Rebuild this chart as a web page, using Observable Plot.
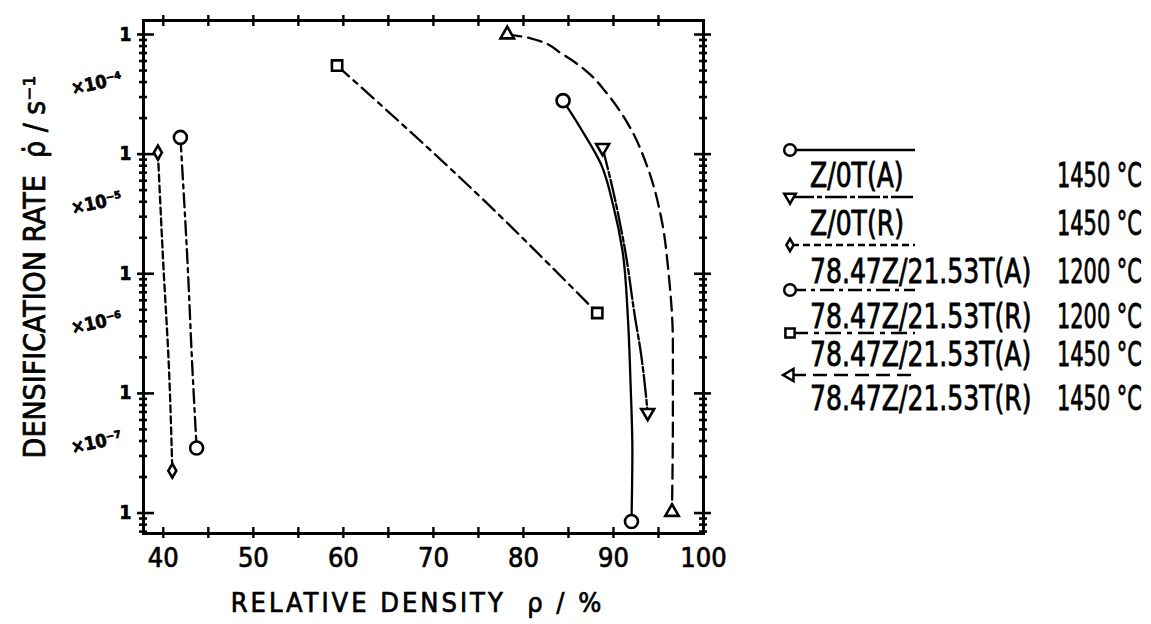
<!DOCTYPE html>
<html><head><meta charset="utf-8">
<script src="https://cdn.jsdelivr.net/npm/d3@7"></script>
<script src="https://cdn.jsdelivr.net/npm/@observablehq/plot@0.6"></script>
<style>
body{margin:0;background:#fff;}
#wrap{position:relative;width:1151px;height:624px;overflow:hidden;background:#fff;}
</style></head><body><div id="wrap"></div>
<script>
// ---------- data ----------
const xTickLabels = [40, 50, 60, 70, 80, 90, 100];
const xMinorTicks = [40, 45, 50, 55, 60, 65, 70, 75, 80, 85, 90, 95];
const yDecades = [1e-8, 1e-7, 1e-6, 1e-5, 1e-4];
const yDecadeLabels = ["1", "1", "1", "1", "1"];
const yMultDecades = [1e-7, 1e-6, 1e-5, 1e-4];
const yMultLabels = ["×10⁻⁷", "×10⁻⁶", "×10⁻⁵", "×10⁻⁴"];

const seriesLabels = ["Z/0T(A)", "Z/0T(R)", "78.47Z/21.53T(A)", "78.47Z/21.53T(R)", "78.47Z/21.53T(A)", "78.47Z/21.53T(R)"];
const seriesTemps = ["1450 °C", "1450 °C", "1200 °C", "1200 °C", "1450 °C", "1450 °C"];

// Z/0T(A) 1450 °C
const zotA_x = [84.4, 86.3, 88.6, 90.0, 91.0, 91.6, 91.9, 92.1, 92.0];
const zotA_y = [2.8e-5, 1.67e-5, 8.3e-6, 3.65e-6, 1.56e-6, 4.3e-7, 1.2e-7, 3.3e-8, 8.5e-9];
// Z/0T(R) 1450 °C
const zotR_x = [88.8, 90.2, 91.3, 92.4, 93.0, 93.8];
const zotR_y = [1.13e-5, 4.1e-6, 1.56e-6, 4.3e-7, 2.3e-7, 6.9e-8];
// 78.47Z/21.53T(A) 1200 °C
const zt1200A_x = [39.4, 40.0, 40.6, 41.0];
const zt1200A_y = [1.03e-5, 1.2e-6, 1.8e-7, 2.26e-8];
// 78.47Z/21.53T(R) 1200 °C
const zt1200R_x = [41.9, 42.7, 43.2, 43.7];
const zt1200R_y = [1.38e-5, 1.2e-6, 1.8e-7, 3.5e-8];
// 78.47Z/21.53T(A) 1450 °C
const zt1450A_x = [59.3, 75.2, 88.2];
const zt1450A_y = [5.5e-5, 4.4e-6, 4.7e-7];
// 78.47Z/21.53T(R) 1450 °C
const zt1450R_x = [78.2, 80.8, 84.4, 87.4, 89.2, 91.9, 93.8, 95.4, 96.1, 96.6, 96.6, 96.5];
const zt1450R_y = [1e-4, 9.3e-5, 6.8e-5, 4.64e-5, 3.27e-5, 1.64e-5, 7.7e-6, 2.7e-6, 1.05e-6, 2.6e-7, 6.6e-8, 1.02e-8];

// ---------- layout ----------
const W = 1151, H = 624;
const mL = 143, mR = 448, mT = 20, mB = 91;
const innerW = W - mL - mR, innerH = H - mT - mB;
const xDomain = [37.8, 100];
const yDomain = [Math.pow(10, -8.171), Math.pow(10, -3.883)];
const FONT = '"DejaVu Sans Condensed","DejaVu Sans",sans-serif';

const pts = (xs, ys) => xs.map((x, i) => ({x, y: ys[i]}));
const ends = a => [a[0], a[a.length - 1]];

const series = [
  {d: pts(zotA_x, zotA_y), dash: null, sym: "circle", r: 6.5, rot: 0, lrot: 0},
  {d: pts(zotR_x, zotR_y), dash: "22,3,5,3", sym: "triangle", r: 4.8, rot: 180, lrot: 180},
  {d: pts(zt1200A_x, zt1200A_y), dash: "7,4", sym: "diamond", r: 4.2, rot: 0, lrot: 0},
  {d: pts(zt1200R_x, zt1200R_y), dash: "14,5,4,5", sym: "circle", r: 6.5, rot: 0, lrot: 0},
  {d: pts(zt1450A_x, zt1450A_y), dash: "16,6,5,6", sym: "square", r: 5.8, rot: 0, lrot: 0},
  {d: pts(zt1450R_x, zt1450R_y), dash: "14,7", sym: "triangle", r: 5, rot: 0, lrot: -90}
];

// minor log ticks
const yMinor = [];
for (let e = -9; e <= -4; e++) for (let k = 2; k <= 9; k++) {
  const v = k * Math.pow(10, e);
  if (v > yDomain[0] && v < yDomain[1]) yMinor.push(v);
}

const txt = {fill: "black", stroke: "black", strokeWidth: 0.7};
const marks = [
  Plot.tickY(yMinor, {y: d => d, insetRight: innerW - 8, dx: -4, stroke: "black", strokeWidth: 2.6}),
  Plot.tickY(yDecades, {y: d => d, insetRight: innerW - 17, dx: -6, stroke: "black", strokeWidth: 2.6}),
  Plot.tickY(yMinor, {y: d => d, insetLeft: innerW - 8, dx: 4, stroke: "black", strokeWidth: 2.6}),
  Plot.tickY(yDecades, {y: d => d, insetLeft: innerW - 17, dx: 8, stroke: "black", strokeWidth: 2.6}),
  Plot.tickX(xMinorTicks, {x: d => d, insetTop: innerH - 11, dy: 5, stroke: "black", strokeWidth: 2.4}),
  Plot.tickX(xMinorTicks, {x: d => d, insetBottom: innerH - 11, dy: -5, stroke: "black", strokeWidth: 2.4}),
  Plot.frame({stroke: "black", strokeWidth: 3}),
  Plot.text(xTickLabels, {x: d => d, frameAnchor: "bottom", lineAnchor: "middle", textAnchor: "middle", dy: 25, text: d => String(d), fontSize: 27, ...txt}),
  Plot.text(yDecades, {y: d => d, text: (d, i) => yDecadeLabels[i], frameAnchor: "left", textAnchor: "middle", lineAnchor: "middle", dx: -18, fontSize: 19, fontWeight: "bold", ...txt}),
  Plot.text(yMultDecades, {y: d => d, text: (d, i) => yMultLabels[i], frameAnchor: "left", textAnchor: "middle", lineAnchor: "middle", dx: -47, dy: 49, rotate: -12, fontSize: 18, fontWeight: "bold", ...txt}),
  Plot.text(["DENSIFICATION RATE  ρ̇ / s⁻¹"], {text: d => d, frameAnchor: "left", textAnchor: "middle", lineAnchor: "middle", dx: -108, dy: -10, rotate: -90, fontSize: 30, ...txt}),
  Plot.text(["RELATIVE DENSITY  ρ / %"], {text: d => d, frameAnchor: "bottom", textAnchor: "middle", lineAnchor: "middle", dx: -6, dy: 70, fontSize: 27, ...txt}),
];

for (const s of series) {
  marks.push(Plot.line(s.d, {x: "x", y: "y", curve: "monotone-y", stroke: "black", strokeWidth: 2.3, strokeDasharray: s.dash || undefined}));
}
for (const s of series) {
  marks.push(Plot.dot(ends(s.d), {x: "x", y: "y", symbol: s.sym, r: s.r, rotate: s.rot, fill: "white", stroke: "black", strokeWidth: 2.6}));
}

const chart = Plot.plot({
  width: W, height: H,
  marginLeft: mL, marginRight: mR, marginTop: mT, marginBottom: mB,
  x: {domain: xDomain, axis: null},
  y: {type: "log", domain: yDomain, axis: null},
  style: {fontFamily: FONT, background: "white", color: "black", overflow: "visible"},
  marks
});
document.getElementById("wrap").appendChild(chart);
// widen the x-axis title's letter spacing like the hand lettering
d3.select(chart).selectAll("text")
  .filter(function () { return this.textContent.startsWith("RELATIVE"); })
  .attr("letter-spacing", 3);

// ---------- legend ----------
const lg = d3.select("#wrap").append("svg")
  .attr("width", W).attr("height", H)
  .style("position", "absolute").style("left", "0px").style("top", "0px")
  .style("font-family", FONT);
const rowLineY = [150, 197, 245, 290, 333, 375];
const rowTextY = [187, 235, 283, 328, 366, 410];
const symMap = {circle: d3.symbolCircle, triangle: d3.symbolTriangle, square: d3.symbolSquare, diamond: d3.symbolDiamond};
series.forEach((s, i) => {
  lg.append("line").attr("x1", 792).attr("x2", 915).attr("y1", rowLineY[i]).attr("y2", rowLineY[i])
    .attr("stroke", "black").attr("stroke-width", 2.5).attr("stroke-dasharray", s.dash || null);
  lg.append("path").attr("d", d3.symbol(symMap[s.sym], Math.PI * s.r * s.r * 0.8)())
    .attr("transform", `translate(790,${rowLineY[i]}) rotate(${s.lrot})`)
    .attr("fill", "white").attr("stroke", "black").attr("stroke-width", 2.5);
  lg.append("text").attr("transform", `translate(810,${rowTextY[i]}) scale(0.9,1.1)`)
    .attr("font-size", 31).attr("stroke", "black").attr("stroke-width", 0.7).text(seriesLabels[i]);
  lg.append("text").attr("transform", `translate(1057,${rowTextY[i]}) scale(0.75,1.1)`)
    .attr("font-size", 31).attr("stroke", "black").attr("stroke-width", 0.7).text(seriesTemps[i]);
});
</script>
</body></html>
